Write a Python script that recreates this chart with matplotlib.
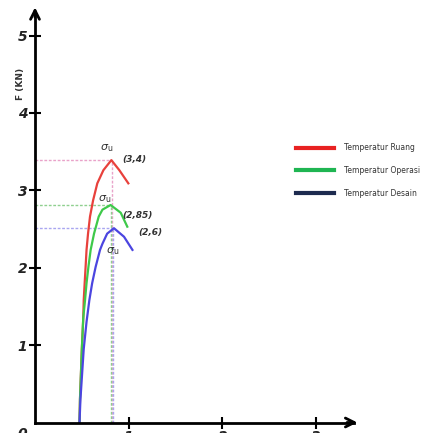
import matplotlib
matplotlib.use("Agg")
from matplotlib import pyplot as plt

# curve data (x, F in kN)
ruang_x = [0.475, 0.48, 0.50, 0.515, 0.52, 0.53, 0.54, 0.55, 0.566, 0.587, 0.62, 0.665, 0.73, 0.815, 0.90, 0.996]
ruang_y = [0.0, 0.3, 0.95, 1.35, 1.58, 1.80, 2.01, 2.23, 2.44, 2.66, 2.87, 3.09, 3.26, 3.39, 3.26, 3.09]

operasi_x = [0.475, 0.48, 0.50, 0.515, 0.534, 0.55, 0.57, 0.594, 0.63, 0.68, 0.72, 0.807, 0.915, 0.985]
operasi_y = [0.0, 0.3, 0.95, 1.35, 1.58, 1.80, 2.01, 2.23, 2.44, 2.66, 2.75, 2.81, 2.71, 2.53]

desain_x = [0.475, 0.485, 0.52, 0.55, 0.58, 0.61, 0.647, 0.694, 0.72, 0.77, 0.843, 0.95, 1.04]
desain_y = [0.0, 0.3, 0.95, 1.30, 1.58, 1.80, 2.01, 2.23, 2.31, 2.44, 2.51, 2.40, 2.23]

peak_x = [0.82, 0.807, 0.836]
peak_y = [3.39, 2.81, 2.51]
peak_labels = ["(3,4)", "(2,85)", "(2,6)"]
legend_labels = ["Temperatur Ruang", "Temperatur Operasi", "Temperatur Desain"]

xticks = [1, 2, 3]
yticks = [1, 2, 3, 4, 5]

curve_colors = ["#e8413c", "#3ec94a", "#4b45e0"]
legend_colors = ["#e82222", "#1fb552", "#1d2b4f"]
guide_colors = ["#e9a3c9", "#8fd08f", "#a9a6f0"]

fig = plt.figure(figsize=(4.35, 4.33), dpi=100)
ax = fig.add_axes([0, 0, 1, 1])
ax.set_xlim(-35 / 93.7, 400 / 93.7)
ax.set_ylim(-10.5 / 77.4, 422.5 / 77.4)

for s in ["top", "right"]:
    ax.spines[s].set_visible(False)
ax.spines["left"].set_position(("data", 0))
ax.spines["bottom"].set_position(("data", 0))
ax.spines["left"].set_bounds(0, 5.3)
ax.spines["bottom"].set_bounds(0, 3.4)
ax.spines["left"].set_linewidth(2)
ax.spines["bottom"].set_linewidth(2)

ax.set_xticks(xticks)
ax.set_yticks(yticks)
ax.tick_params(direction="inout", length=9, width=1.5, pad=1)
ax.set_xticklabels([str(t) for t in xticks], fontweight="bold", fontstyle="italic",
                   fontsize=10, color="#222222")
ax.set_yticklabels([str(t) for t in yticks], fontweight="bold", fontstyle="italic",
                   fontsize=10, color="#222222")
ax.text(-0.08, -0.06, "0", ha="right", va="top", fontweight="bold", fontstyle="italic",
        fontsize=10, color="#222222")

# arrow heads
ax.annotate("", xy=(3.47, 0), xytext=(3.3, 0),
            arrowprops=dict(arrowstyle="->", lw=2, mutation_scale=16, color="black"))
ax.annotate("", xy=(0, 5.4), xytext=(0, 5.2),
            arrowprops=dict(arrowstyle="->", lw=2, mutation_scale=16, color="black"))

ax.text(-0.15, 4.38, "F (KN)", rotation=90, ha="center", va="center",
        fontsize=6.5, fontweight="bold", color="#333333")

# guide lines to the peaks
for px, py, gc in zip(peak_x, peak_y, guide_colors):
    ax.plot([0, px], [py, py], color=gc, lw=1, ls=(0, (2, 1.2)))
    ax.plot([px, px], [0, py], color=gc, lw=1, ls=(0, (2, 1.2)))

series = [(ruang_x, ruang_y), (operasi_x, operasi_y), (desain_x, desain_y)]
for (xs, ys), c in zip(series, curve_colors):
    ax.plot(xs, ys, color=c, lw=1.6, solid_joinstyle="round")

# legend entries
for lab, lc in zip(legend_labels, legend_colors):
    ax.plot([], [], color=lc, lw=3, label=lab)
leg = ax.legend(loc="upper left", bbox_to_anchor=(0.665, 0.685), frameon=False,
                fontsize=5.5, handlelength=5.0, labelspacing=1.8, handletextpad=1.3)
for t in leg.get_texts():
    t.set_color("#333333")

# sigma_u and value labels
su_pos = [(0.76, 3.55), (0.74, 2.88), (0.83, 2.22)]
lab_pos = [(0.93, 3.40), (0.93, 2.68), (1.10, 2.45)]
for (sx, sy), (lx, ly), lab in zip(su_pos, lab_pos, peak_labels):
    ax.text(sx, sy, r"$\sigma_{\mathrm{u}}$", fontsize=8, color="#333333",
            ha="center", va="center")
    ax.text(lx, ly, lab, fontsize=6.5, fontweight="bold", fontstyle="italic",
            color="#333333", ha="left", va="center")

fig.savefig("out.png", dpi=100)
